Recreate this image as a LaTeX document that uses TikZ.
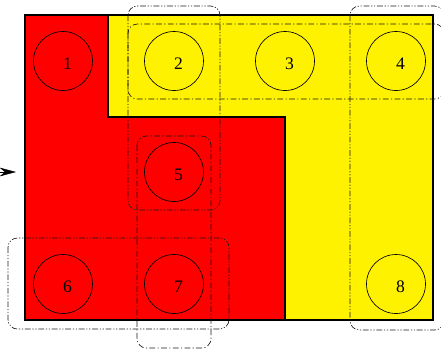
\documentclass[tikz,border=0pt]{standalone}
\usepackage{fontspec}
\setmainfont{Liberation Serif}
\usetikzlibrary{arrows.meta}

\begin{document}
\begin{tikzpicture}[
		x=0.03cm, y=-0.03cm,
		c/.style={circle, draw, line width=0.55pt, minimum size=1.77cm, inner sep=0pt},
		num/.style={xshift=3.8pt, yshift=-2pt, font=\fontsize{15}{17}\selectfont},
		edge/.style={line width=1.5pt, line join=miter},
		g/.style={draw=black!90, line width=0.55pt, rounded corners=8pt, dash pattern=on 5pt off 2pt on 1pt off 2pt},
		gg/.style={draw=black!90, line width=0.55pt, rounded corners=8pt, dash pattern=on 5pt off 1.5pt on 1pt off 1.5pt on 1pt off 1.5pt},
		r/.style={-{Stealth[length=14pt, width=7.5pt]}, thin},
		]
		\useasboundingbox (0,0) rectangle (441,350);
		\clip (0,0) rectangle (441,350);

		%Regions
		\fill[red]		(25,15)		rectangle	(433,320);
		\fill[yellow]	(108,15) -- (433,15) -- (433,320) -- (285,320) -- (285,117) -- (108,117) -- cycle;
		\draw[edge]		(25,15)		rectangle	(433,320);
		\draw[edge]		(108,15)	|-	(285,117)	--	(285,320);

		%Nodes
		\node[c]	(c1)	at	(63, 61)	[label={[num]center:1}] {};
		\node[c]	(c2)	at	(174, 61)	[label={[num]center:2}] {};
		\node[c]	(c3)	at	(285, 61)	[label={[num]center:3}] {};
		\node[c]	(c4)	at	(396, 61)	[label={[num]center:4}] {};
		\node[c]	(c5)	at	(174, 172)	[label={[num]center:5}] {};
		\node[c]	(c6)	at	(63, 284)	[label={[num]center:6}] {};
		\node[c]	(c7)	at	(174, 284)	[label={[num]center:7}] {};
		\node[c]	(c8)	at	(396, 284)	[label={[num]center:8}] {};

		%Groups
		\draw[g]	(128, 24)	rectangle	(444, 99);
		\draw[gg]	(128, 6)	rectangle	(220, 210);
		\draw[g]	(137, 136)	rectangle	(211, 348);
		\draw[gg]	(8, 238)	rectangle	(229, 329);
		\draw[gg]	(350, 6)	rectangle	(444, 330);

		%Input
		\coordinate	(src)	at	(-30, 172);
		\coordinate	(dst)	at	(16, 172);
		\draw[r]	(src)	--	(dst);
	\end{tikzpicture}
\end{document}
